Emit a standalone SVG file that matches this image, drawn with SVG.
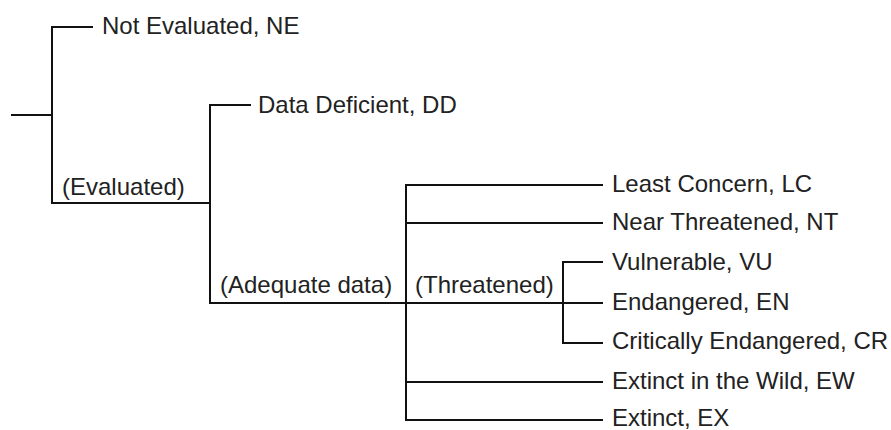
<svg xmlns="http://www.w3.org/2000/svg" width="891" height="430" viewBox="0 0 891 430">
<style>
.ln{stroke:#111;stroke-width:2;fill:none;stroke-linecap:square}
.t{font-family:"Liberation Sans",Arial,sans-serif;font-size:24px;fill:#222}
</style>
<rect width="891" height="430" fill="#fff"/>
<g id="connectors" class="ln">
<path d="M12 115H52M52 27V203M52 27H92M52 203H210"/>
<path d="M210 105V303M210 105H250M210 303H406"/>
<path d="M406 185V420M406 185H602M406 223H602M406 303H602M406 382H602M406 420H602"/>
<path d="M563 262V343M563 262H602M563 343H602"/>
</g>
<g id="n-ne"><text class="t" x="102" y="34">Not Evaluated, NE</text></g>
<g id="n-evaluated"><text class="t" x="62" y="195">(Evaluated)</text></g>
<g id="n-dd"><text class="t" x="258" y="113">Data Deficient, DD</text></g>
<g id="n-adequate"><text class="t" x="220" y="293">(Adequate data)</text></g>
<g id="n-threatened"><text class="t" x="415" y="293">(Threatened)</text></g>
<g id="n-lc"><text class="t" x="612" y="192">Least Concern, LC</text></g>
<g id="n-nt"><text class="t" x="612" y="230">Near Threatened, NT</text></g>
<g id="n-vu"><text class="t" x="612" y="270">Vulnerable, VU</text></g>
<g id="n-en"><text class="t" x="612" y="310">Endangered, EN</text></g>
<g id="n-cr"><text class="t" x="612" y="349">Critically Endangered, CR</text></g>
<g id="n-ew"><text class="t" x="612" y="389">Extinct in the Wild, EW</text></g>
<g id="n-ex"><text class="t" x="612" y="426">Extinct, EX</text></g>
</svg>
